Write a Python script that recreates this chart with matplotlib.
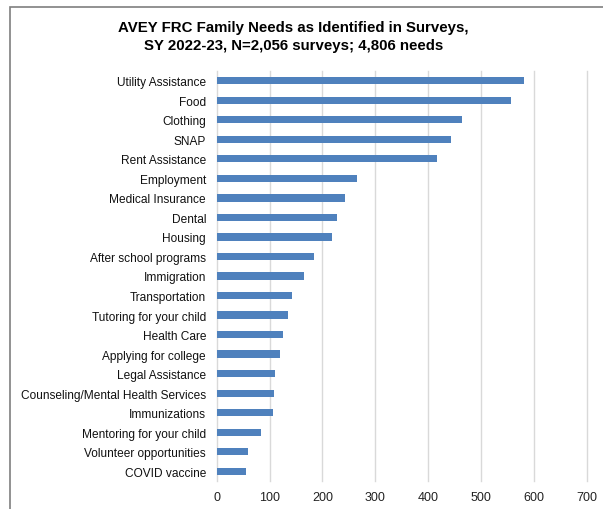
import matplotlib
matplotlib.use("Agg")
import matplotlib.pyplot as plt
from matplotlib.patches import Rectangle

plt.rcParams['font.family'] = ['Liberation Sans', 'DejaVu Sans']

categories = [
    "Utility Assistance", "Food", "Clothing", "SNAP", "Rent Assistance",
    "Employment", "Medical Insurance", "Dental", "Housing",
    "After school programs", "Immigration", "Transportation",
    "Tutoring for your child", "Health Care", "Applying for college",
    "Legal Assistance", "Counseling/Mental Health Services",
    "Immunizations", "Mentoring for your child", "Volunteer opportunities",
    "COVID vaccine",
]
needs = [581, 556, 464, 443, 416, 265, 242, 227, 219, 185, 166, 142,
         134, 125, 120, 110, 108, 106, 84, 59, 55]
x_ticks = [0, 100, 200, 300, 400, 500, 600, 700]

fig = plt.figure(figsize=(6.03, 5.10), dpi=100)

# frame around the chart area (runs off the right and bottom edges)
fig.patches.append(Rectangle((10 / 603, -0.1), 1.0, (510 - 8) / 510 + 0.1,
                             transform=fig.transFigure, fill=False,
                             edgecolor="#7f7f7f", linewidth=1.2))

ax = fig.add_axes([216.7 / 603, (510 - 482) / 510, 370 / 603, 410 / 510])
y = list(range(len(categories)))
ax.barh(y, needs, height=0.37, color="#4f81bd", zorder=3)
ax.set_ylim(len(categories) - 0.5, -0.5)
ax.set_xlim(0, 700)
ax.set_xticks(x_ticks)
ax.set_xticklabels([str(t) for t in x_ticks], fontsize=9, color="#222222")
ax.set_yticks(y)
ax.set_yticklabels(categories, fontsize=8.6, color="#111111")
ax.tick_params(axis="both", length=0)
ax.tick_params(axis="y", pad=7.7)
ax.tick_params(axis="x", pad=7.5)
ax.grid(axis="x", color="#d9d9d9", linewidth=1.0, zorder=0)
for gl in ax.get_xgridlines():
    gl.set_clip_on(False)
for s in ax.spines.values():
    s.set_visible(False)

fig.text(0.487, 1 - 28 / 510, "AVEY FRC Family Needs as Identified in Surveys,",
         ha="center", va="center", fontsize=10.8, fontweight="bold")
fig.text(0.487, 1 - 46 / 510, "SY 2022-23, N=2,056 surveys; 4,806 needs",
         ha="center", va="center", fontsize=10.8, fontweight="bold")

fig.savefig("out.png", dpi=100)
